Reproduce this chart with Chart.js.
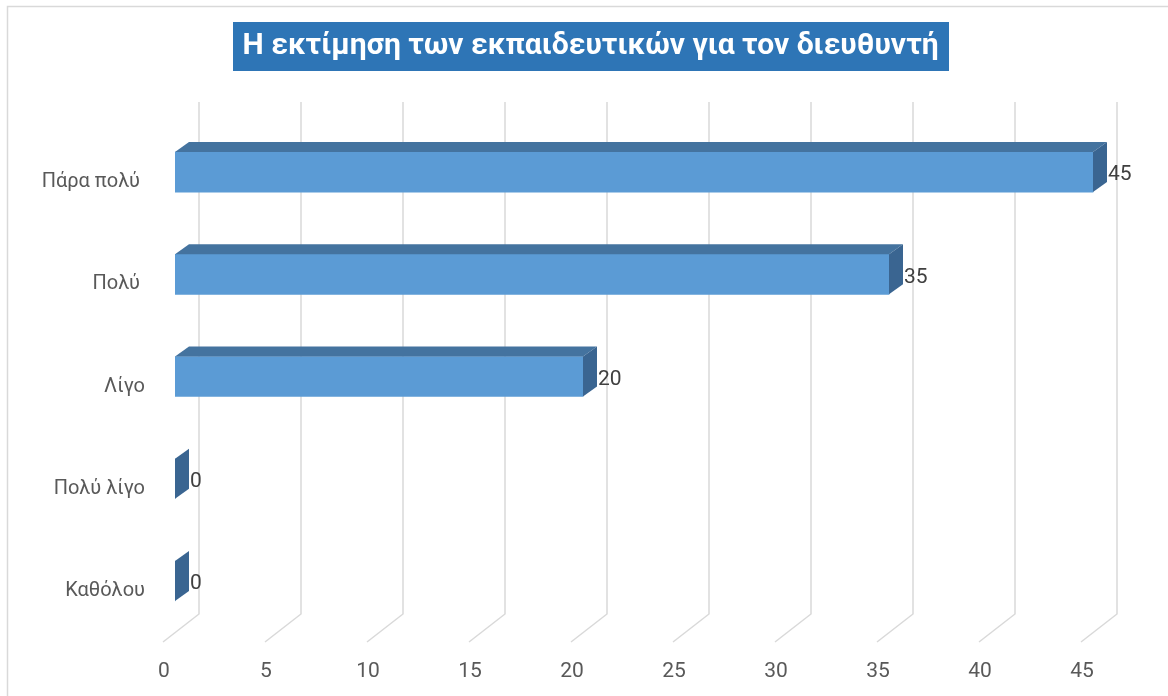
<!DOCTYPE html>
<html>
<head>
<meta charset="utf-8">
<script src="https://cdn.jsdelivr.net/npm/chart.js@4.4.1/dist/chart.umd.min.js"></script>
<style>
html,body{margin:0;padding:0;background:#fff;overflow:hidden}
canvas{display:block}
</style>
</head>
<body>
<canvas id="c" width="1168" height="696"></canvas>
<script>
const titleText = 'Η εκτίμηση των εκπαιδευτικών για τον διευθυντή';
const categories = ['Πάρα πολύ ', 'Πολύ ', 'Λίγο', 'Πολύ λίγο', 'Καθόλου'];
const values = [45, 35, 20, 0, 0];
const xTicks = [0, 5, 10, 15, 20, 25, 30, 35, 40, 45];

const FONT = 'Roboto';
const frontColor = '#5B9BD5';
const topColor = '#44739F';
const sideColor = '#3A6591';
const gridColor = '#d9d9d9';

const framePlugin = {
  id: 'frame',
  beforeDraw(chart) {
    const { ctx, width, height } = chart;
    ctx.save();
    ctx.fillStyle = '#ffffff';
    ctx.fillRect(0, 0, width, height);
    ctx.strokeStyle = gridColor;
    ctx.lineWidth = 1.5;
    ctx.strokeRect(7.5, 6.5, width + 20, height + 20);
    const t = chart.titleBlock;
    const o = t.options;
    const f = Chart.helpers.toFont(o.font);
    const pad = Chart.helpers.toPadding(o.padding);
    ctx.font = f.string;
    const w = ctx.measureText(o.text).width;
    const cx = (t.left + t.right) / 2;
    const cy = t.top + pad.top + f.lineHeight / 2;
    ctx.fillStyle = '#2E75B6';
    ctx.fillRect(Math.round(cx - w / 2 - 10), Math.round(cy - 24.5), Math.round(w + 20), 49);
    ctx.restore();
  }
};

const gridPlugin = {
  id: 'grid3d',
  beforeDatasetsDraw(chart) {
    const { ctx, chartArea } = chart;
    const xs = chart.scales.x;
    ctx.save();
    ctx.strokeStyle = gridColor;
    ctx.lineWidth = 1.5;
    xTicks.forEach(v => {
      const px = Math.round(xs.getPixelForValue(v));
      ctx.beginPath();
      ctx.moveTo(px + 24, chartArea.top - 19);
      ctx.lineTo(px + 24, chartArea.bottom - 18);
      ctx.lineTo(px - 12, chartArea.bottom + 10);
      ctx.stroke();
    });
    ctx.restore();
  }
};

const bar3dPlugin = {
  id: 'bar3d',
  afterDatasetsDraw(chart) {
    const { ctx } = chart;
    const meta = chart.getDatasetMeta(0);
    const dx = 14, dy = -10;
    ctx.save();
    meta.data.forEach((bar, i) => {
      const p = bar.getProps(['x', 'y', 'base', 'height'], true);
      const top = p.y - p.height / 2;
      const bot = p.y + p.height / 2;
      const x0 = p.base, x1 = p.x;
      if (x1 > x0) {
        ctx.fillStyle = topColor;
        ctx.beginPath();
        ctx.moveTo(x0, top);
        ctx.lineTo(x1, top);
        ctx.lineTo(x1 + dx, top + dy);
        ctx.lineTo(x0 + dx, top + dy);
        ctx.closePath();
        ctx.fill();
      }
      ctx.fillStyle = sideColor;
      ctx.beginPath();
      ctx.moveTo(x1, top);
      ctx.lineTo(x1 + dx, top + dy);
      ctx.lineTo(x1 + dx, bot + dy);
      ctx.lineTo(x1, bot);
      ctx.closePath();
      ctx.fill();
      ctx.fillStyle = '#404040';
      ctx.font = '21px ' + FONT;
      ctx.textAlign = 'left';
      ctx.textBaseline = 'middle';
      ctx.fillText(String(values[i]), x1 + dx + 1, p.y + 3);
    });
    ctx.restore();
  }
};

new Chart(document.getElementById('c'), {
  type: 'bar',
  data: {
    labels: categories,
    datasets: [{
      data: values,
      backgroundColor: frontColor,
      borderWidth: 0,
      barThickness: 40
    }]
  },
  options: {
    responsive: false,
    animation: false,
    devicePixelRatio: 1,
    indexAxis: 'y',
    layout: { padding: { left: 27, right: 13.8, top: 0, bottom: 0 } },
    plugins: {
      legend: { display: false },
      tooltip: { enabled: false },
      title: {
        display: true,
        text: titleText,
        color: '#ffffff',
        font: { family: FONT, size: 30, weight: 'bold', lineHeight: 1.2 },
        padding: { top: 28, bottom: 57 }
      }
    },
    scales: {
      x: {
        min: 0,
        max: 48,
        afterBuildTicks(s) { s.ticks = xTicks.map(v => ({ value: v })); },
        afterFit(s) { s.height = 64; },
        ticks: { labelOffset: -11, padding: 27, color: '#595959', font: { family: FONT, size: 21 } },
        grid: { display: false, drawTicks: false },
        border: { display: false }
      },
      y: {
        afterFit(s) { s.width = 148; },
        ticks: { labelOffset: 10, padding: 30, color: '#595959', font: { family: FONT, size: 20 } },
        grid: { display: false, drawTicks: false },
        border: { display: false }
      }
    }
  },
  plugins: [framePlugin, gridPlugin, bar3dPlugin]
});
</script>
</body>
</html>
